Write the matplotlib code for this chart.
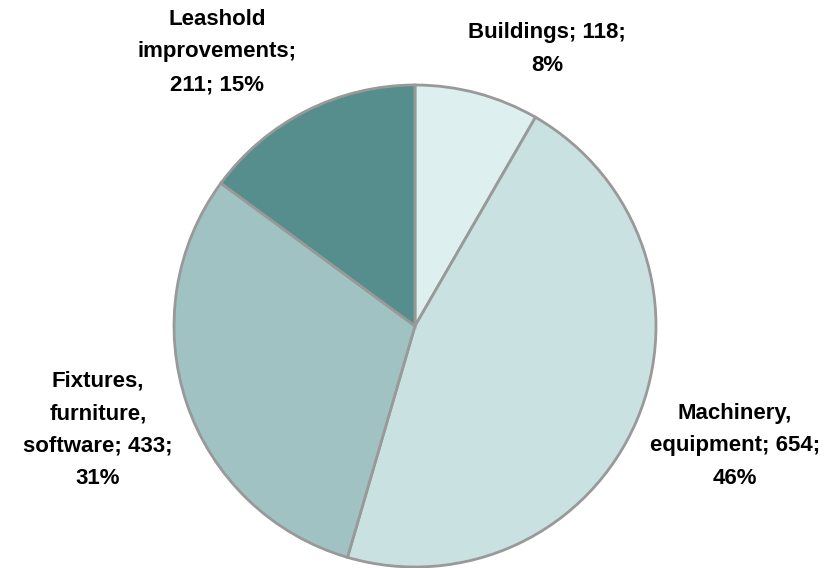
import matplotlib
matplotlib.use("Agg")
import matplotlib.pyplot as plt

categories = ["Buildings", "Machinery,\nequipment", "Fixtures,\nfurniture,\nsoftware", "Leashold\nimprovements"]
values = [118, 654, 433, 211]
colors = ["#ddefee", "#c9e1e1", "#a1c2c3", "#558e8c"]

W, H = 839, 568
fig = plt.figure(figsize=(W / 100, H / 100), dpi=100)
ax = fig.add_axes([0, 0, 1, 1])

R = 241.0
cx, cy = 415.0, 568 - 326.0
wedges, _ = ax.pie(values, colors=colors, startangle=90, counterclock=False,
                   radius=1.0, center=(0, 0),
                   wedgeprops=dict(edgecolor="#999999", linewidth=2.0))
ax.set_xlim(-cx / R, (W - cx) / R)
ax.set_ylim(-cy / R, (H - cy) / R)
ax.set_aspect("auto")
ax.axis("off")

total = sum(values)
label_texts = [
    "Buildings; {v};\n{p:.0f}%",
    "Machinery,\nequipment; {v};\n{p:.0f}%",
    "Fixtures,\nfurniture,\nsoftware; {v};\n{p:.0f}%",
    "Leashold\nimprovements;\n{v}; {p:.0f}%",
]
# label centres in figure pixel coordinates (layout)
label_pos = [(547, 49), (735, 446), (98, 430), (217, 52)]
for txt, v, (px, py) in zip(label_texts, values, label_pos):
    s = txt.format(v=v, p=100 * v / total)
    fig.text(px / W, 1 - py / H, s, ha="center", va="center", multialignment="center",
             fontsize=16, fontweight="bold", family="Liberation Sans",
             linespacing=1.72, color="black")

fig.savefig("out.png", dpi=100)
